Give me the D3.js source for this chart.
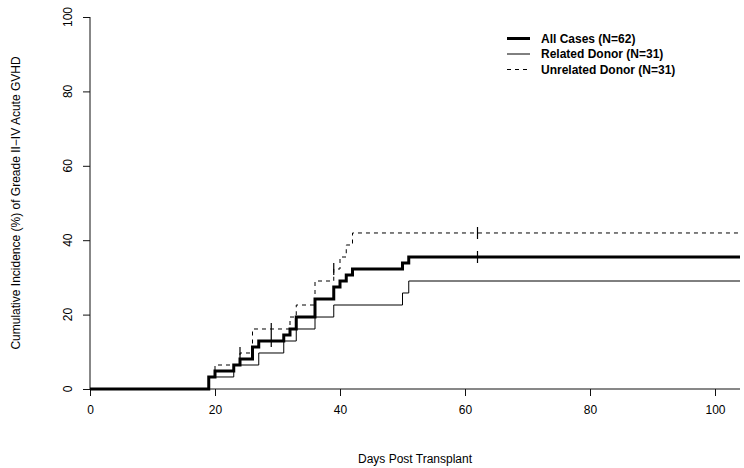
<!DOCTYPE html>
<html>
<head>
<meta charset="utf-8">
<script src="https://cdn.jsdelivr.net/npm/d3@7"></script>
<style>
  html, body { margin: 0; padding: 0; background: #fff; }
  svg { display: block; }
  text { font-family: "Liberation Sans", Arial, Helvetica, sans-serif; fill: #000; }
</style>
</head>
<body>
<svg id="chart" width="744" height="468"></svg>
<script>
// ---- Data ----
const xTicks = [0, 20, 40, 60, 80, 100];
const yTicks = [0, 20, 40, 60, 80, 100];
const xLabel = "Days Post Transplant";
const yLabel = "Cumulative Incidence (%) of Greade II\u2212IV Acute GVHD";
const seriesNames = ["All Cases (N=62)", "Related Donor (N=31)", "Unrelated Donor (N=31)"];

const allTimes  = [0, 19, 20, 23, 24, 26, 27, 31, 32, 33, 36, 39, 40, 41, 42, 50, 51];
const allValues = [0, 3.23, 4.84, 6.45, 8.06, 11.29, 12.90, 14.52, 16.13, 19.35, 24.19, 27.42, 29.03, 30.65, 32.26, 33.87, 35.48];
const allCensor = [29, 62];

const relTimes  = [0, 19, 23, 27, 31, 33, 36, 39, 50, 51];
const relValues = [0, 3.23, 6.45, 9.68, 12.90, 16.13, 19.35, 22.58, 25.81, 29.03];
const relCensor = [];

const unrTimes  = [0, 19, 20, 24, 26, 32, 33, 36, 39, 40, 41, 42];
const unrValues = [0, 3.23, 6.45, 9.68, 16.13, 19.35, 22.58, 29.03, 32.26, 35.48, 38.71, 41.94];
const unrCensor = [24, 29, 39, 62];

const xMax = 104;

// ---- Layout ----
const svg = d3.select("#chart");
const pLeft = 90, pRight = 740, pTop = 17, pBottom = 389;

const x = d3.scaleLinear().domain([0, xMax]).range([pLeft, pRight]);
const y = d3.scaleLinear().domain([0, 100]).range([pBottom, pTop]);

const styles = [
  { width: 3, dash: null, color: "#000" },
  { width: 1, dash: null, color: "#000" },
  { width: 1, dash: "4,4", color: "#000" }
];

function toPoints(times, values) {
  const pts = times.map((t, i) => [t, values[i]]);
  pts.push([xMax, values[values.length - 1]]);
  return pts;
}
function valueAt(times, values, t) {
  let v = 0;
  for (let i = 0; i < times.length; i++) if (times[i] <= t) v = values[i];
  return v;
}

const series = [
  { times: allTimes, values: allValues, censor: allCensor },
  { times: relTimes, values: relValues, censor: relCensor },
  { times: unrTimes, values: unrValues, censor: unrCensor }
];

// ---- Axes ----
const xAxis = d3.axisBottom(x).tickValues(xTicks).tickSize(7).tickPadding(9).tickFormat(d3.format("d"));
const gx = svg.append("g").attr("transform", `translate(0,${pBottom})`).call(xAxis);
gx.select(".domain").remove();
gx.selectAll("line").attr("stroke", "#111");
gx.selectAll("text").attr("font-size", 12).style("font-family", "Liberation Sans, Arial, sans-serif").attr("fill", "#000");
svg.append("line").attr("x1", pLeft).attr("x2", pRight).attr("y1", pBottom).attr("y2", pBottom)
  .attr("stroke", "#111").attr("stroke-width", 1);

const yAxis = d3.axisLeft(y).tickValues(yTicks).tickSize(7).tickFormat("");
const gy = svg.append("g").attr("transform", `translate(${pLeft},0)`).call(yAxis);
gy.select(".domain").remove();
gy.selectAll("line").attr("stroke", "#111");
svg.append("line").attr("x1", pLeft).attr("x2", pLeft).attr("y1", pTop).attr("y2", pBottom)
  .attr("stroke", "#111").attr("stroke-width", 1);

svg.append("g").selectAll("text").data(yTicks).join("text")
  .attr("transform", d => `translate(72,${y(d)}) rotate(-90)`)
  .attr("text-anchor", "middle")
  .attr("font-size", 12)
  .text(d => d);

svg.append("text")
  .attr("x", (pLeft + pRight) / 2).attr("y", 463)
  .attr("text-anchor", "middle").attr("font-size", 12)
  .text(xLabel);

svg.append("text")
  .attr("transform", `translate(20,${(pTop + pBottom) / 2}) rotate(-90)`)
  .attr("text-anchor", "middle").attr("font-size", 12)
  .text(yLabel);

// ---- Curves ----
const line = d3.line().x(d => x(d[0])).y(d => y(d[1])).curve(d3.curveStepAfter);
const order = [1, 2, 0];
order.forEach(i => {
  const s = series[i], st = styles[i];
  svg.append("path")
    .datum(toPoints(s.times, s.values))
    .attr("d", line)
    .attr("fill", "none")
    .attr("stroke", st.color)
    .attr("stroke-width", st.width)
    .attr("stroke-dasharray", st.dash)
    .attr("stroke-linejoin", "miter")
    .attr("stroke-linecap", "butt");
  svg.append("g").selectAll("line").data(s.censor).join("line")
    .attr("x1", d => x(d)).attr("x2", d => x(d))
    .attr("y1", d => y(valueAt(s.times, s.values, d)) - 6)
    .attr("y2", d => y(valueAt(s.times, s.values, d)) + 6)
    .attr("stroke", "#000").attr("stroke-width", 1.2);
});

// ---- Legend ----
const legY = [38.5, 54, 69.5];
const lg = svg.append("g");
seriesNames.forEach((name, i) => {
  const st = styles[i];
  lg.append("line")
    .attr("x1", 507).attr("x2", 530).attr("y1", legY[i]).attr("y2", legY[i])
    .attr("stroke", st.color).attr("stroke-width", st.width)
    .attr("stroke-dasharray", st.dash);
  lg.append("text")
    .attr("x", 541).attr("y", legY[i] + 4.2)
    .attr("font-size", 12).attr("font-weight", "bold")
    .text(name);
});
</script>
</body>
</html>
